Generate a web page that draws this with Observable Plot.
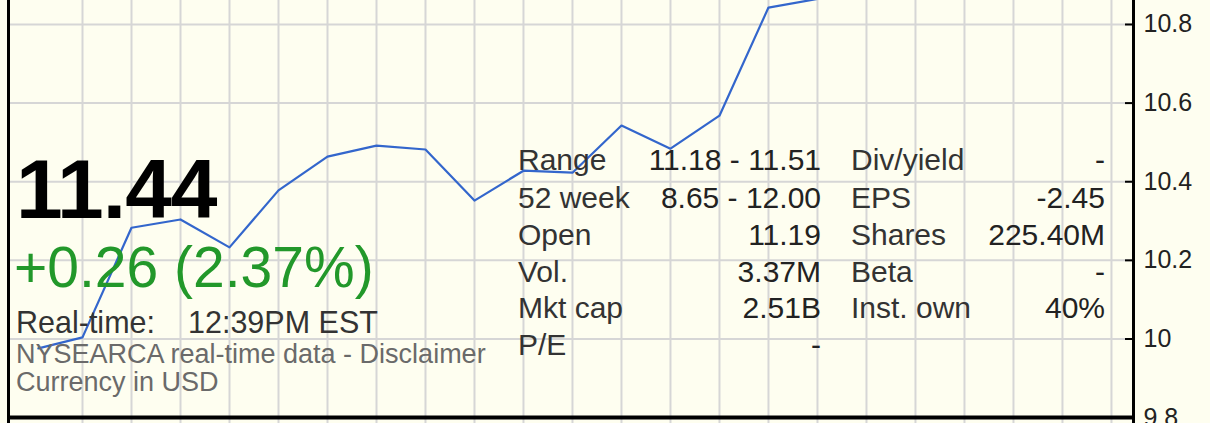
<!DOCTYPE html>
<html>
<head>
<meta charset="utf-8">
<script src="https://cdn.jsdelivr.net/npm/d3@7"></script>
<script src="https://cdn.jsdelivr.net/npm/@observablehq/plot@0.6"></script>
<style>
  html, body { margin: 0; padding: 0; background: #fefef0; }
  #wrap { position: relative; width: 1210px; height: 423px; overflow: hidden; background: #fefef0;
          font-family: "Liberation Sans", Arial, sans-serif; }
  #wrap svg { position: absolute; left: 0; top: 0; }
  .t { position: absolute; line-height: 1; white-space: pre; }
</style>
</head>
<body>
<div id="wrap"></div>
<script>
// ---- data ----
const slots  = [-0.9, 0, 1, 2, 3, 4, 5, 6, 7, 8, 9, 10, 11, 12, 13, 14, 15];
const prices = [9.976, 10.004, 10.283, 10.304, 10.233, 10.378, 10.464, 10.492, 10.482,
                10.352, 10.428, 10.423, 10.543, 10.484, 10.568, 10.843, 10.865];
const yTicks = [9.8, 10, 10.2, 10.4, 10.6, 10.8];
const xGridSlots = [0, 1, 2, 3, 4, 5, 6, 7, 8, 9, 10, 11, 12, 13, 14, 15, 16, 17, 18, 19, 20, 21];
const xDomain = [-1.51, 21.45];
const yDomain = [9.785, 10.861];
const baseline = [9.8];

const price = "11.44";
const change = "+0.26 (2.37%)";
const rtLabel = "Real-time:";
const rtTime = "12:39PM EST";
const disclaimer = "NYSEARCA real-time data - Disclaimer";
const currency = "Currency in USD";

const statLabels1 = ["Range", "52 week", "Open", "Vol.", "Mkt cap", "P/E"];
const statValues1 = ["11.18 - 11.51", "8.65 - 12.00", "11.19", "3.37M", "2.51B", "-"];
const statLabels2 = ["Div/yield", "EPS", "Shares", "Beta", "Inst. own"];
const statValues2 = ["-", "-2.45", "225.40M", "-", "40%"];

// ---- chart ----
const data = slots.map((s, i) => ({slot: s, price: prices[i]}));

const chart = Plot.plot({
  width: 1210,
  height: 423,
  marginLeft: 8,
  marginRight: 77,
  marginTop: 0,
  marginBottom: 0,
  style: {background: "transparent", fontFamily: "'Liberation Sans', Arial, sans-serif"},
  x: {domain: xDomain, axis: null},
  y: {domain: yDomain, axis: null},
  marks: [
    Plot.gridX(xGridSlots, {stroke: "#d6d6d6", strokeOpacity: 1, strokeWidth: 2}),
    Plot.gridY(yTicks, {stroke: "#d6d6d6", strokeOpacity: 1, strokeWidth: 2}),
    Plot.line(data, {x: "slot", y: "price", stroke: "#3366cc", strokeWidth: 2.2, clip: true}),
    Plot.ruleY(baseline, {stroke: "#000", strokeWidth: 4}),
    Plot.ruleX(xDomain, {stroke: "#000", strokeWidth: 3}),
    // inward tick marks
    Plot.axisY(yTicks, {anchor: "right", label: null, tickSize: 9, dx: -9, stroke: "#000",
      strokeWidth: 2, tickFormat: () => ""}),
    // tick labels
    Plot.axisY(yTicks, {anchor: "right", label: null, tickSize: 0, tickPadding: 10, fontSize: 25,
      fill: "#222", tickFormat: d => String(d)})
  ]
});

const wrap = document.getElementById("wrap");
wrap.appendChild(chart);

function addText(str, left, baselineY, fs, color, weight, extra) {
  const el = document.createElement("div");
  el.className = "t";
  el.textContent = str;
  el.style.fontSize = fs + "px";
  el.style.top = (baselineY - 0.8465 * fs) + "px";
  if (extra && extra.right != null) el.style.right = extra.right + "px";
  else el.style.left = left + "px";
  el.style.color = color;
  if (weight) el.style.fontWeight = weight;
  if (extra && extra.ls) el.style.letterSpacing = extra.ls;
  wrap.appendChild(el);
  return el;
}

addText(price, 16, 218, 84, "#000", "bold", {ls: "-1px"});
addText(change, 14, 287, 57, "#22982a");
addText(rtLabel, 16, 333, 30.5, "#333");
addText(rtTime, 188, 333, 30.5, "#333");
addText(disclaimer, 16, 364, 27, "#6a6a6a");
addText(currency, 16, 392, 27, "#6a6a6a");

const rowBase = [170, 208, 245, 282, 318, 355];
statLabels1.forEach((s, i) => addText(s, 518, rowBase[i], 30, "#333"));
statValues1.forEach((s, i) => addText(s, 0, rowBase[i], 30, "#222", null, {right: 1210 - 821}));
statLabels2.forEach((s, i) => addText(s, 851, rowBase[i], 30, "#333"));
statValues2.forEach((s, i) => addText(s, 0, rowBase[i], 30, "#222", null, {right: 1210 - 1105}));
</script>
</body>
</html>
